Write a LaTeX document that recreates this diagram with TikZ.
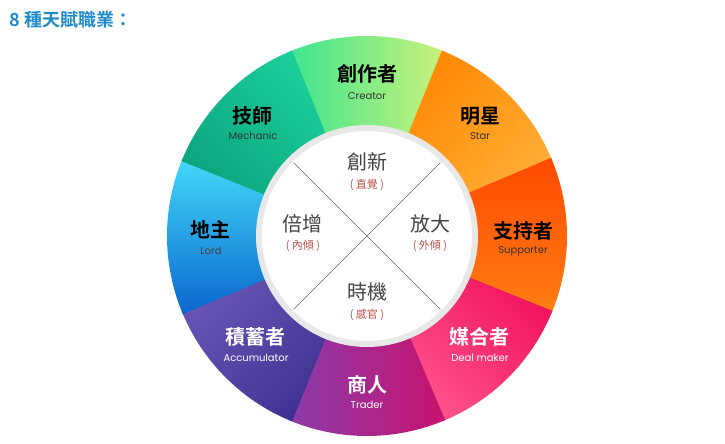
\documentclass[tikz,border=0pt]{standalone}
\usepackage{fontspec}
\newfontfamily\cjkb[BoldFont={Noto Sans CJK TC Bold}]{Noto Sans CJK TC}
\newfontfamily\cjkr{Noto Sans CJK TC}
\newfontfamily\enf{Poppins}
\definecolor{ttl}{HTML}{1F8AC8}
\definecolor{inred}{HTML}{C0504D}
\definecolor{ingray}{HTML}{444444}
\definecolor{c1a}{HTML}{3EE590}\definecolor{c1b}{HTML}{CCF27A}
\definecolor{c2a}{HTML}{FF8400}\definecolor{c2b}{HTML}{FFB23A}
\definecolor{c3a}{HTML}{FF4A00}\definecolor{c3b}{HTML}{FF7E14}
\definecolor{c4a}{HTML}{F00C58}\definecolor{c4b}{HTML}{FF5A92}
\definecolor{c5a}{HTML}{C8126E}\definecolor{c5b}{HTML}{8A3CAA}
\definecolor{c6a}{HTML}{3A2E90}\definecolor{c6b}{HTML}{6E5AB8}
\definecolor{c7a}{HTML}{0A66CE}\definecolor{c7b}{HTML}{44DAF8}
\definecolor{c8a}{HTML}{0AA07C}\definecolor{c8b}{HTML}{1ED49C}
\tikzset{
 big/.style={font=\cjkb\bfseries\fontsize{20}{22}\selectfont},
 sm/.style={font=\enf\fontsize{10}{12}\selectfont},
 inbig/.style={font=\cjkr\fontsize{20}{22}\selectfont,text=ingray},
 insm/.style={font=\cjkr\fontsize{11}{12}\selectfont,text=inred},
}
\newcommand{\wedgeseg}[3]{%
 \shade[left color=#2,right color=#3,shading angle=#1]
 (0,0) -- (#1+23:200) arc[start angle=#1+23,end angle=#1-23,radius=200] -- cycle;}
\begin{document}
\begin{tikzpicture}[x=1pt,y=1pt]
\useasboundingbox (-367,-208) rectangle (358,236);
\node[anchor=west,text=ttl,font=\cjkb\bfseries\fontsize{18}{20}\selectfont] (title) at (-361,216) {8 種天賦職業：};
% wedges
\wedgeseg{90}{c1a}{c1b}
\wedgeseg{45}{c2a}{c2b}
\wedgeseg{0}{c3a}{c3b}
\wedgeseg{-45}{c4a}{c4b}
\wedgeseg{-90}{c5a}{c5b}
\wedgeseg{-135}{c6a}{c6b}
\wedgeseg{180}{c7a}{c7b}
\wedgeseg{135}{c8a}{c8b}
% inner circle
\fill[gray!18] (0,0) circle (111);
\fill[white] (0,0) circle (105);
\coordinate (d1) at (45:104); \coordinate (d2) at (225:104);
\coordinate (d3) at (135:104); \coordinate (d4) at (-45:104);
\draw[gray!80!black,line width=0.5pt] (d1) -- (d2);
\draw[gray!80!black,line width=0.5pt] (d3) -- (d4);
% inner labels
\node[inbig] (i1) at (0,74) {創新}; \node[insm] (i1s) at (0,51) {( 直覺 )};
\node[inbig] (i2) at (-64,12) {倍增}; \node[insm] (i2s) at (-64,-10) {( 內傾 )};
\node[inbig] (i3) at (63,12) {放大}; \node[insm] (i3s) at (63,-10) {( 外傾 )};
\node[inbig] (i4) at (0,-56) {時機}; \node[insm] (i4s) at (0,-79) {( 感官 )};
% outer labels
\node[big] (a1) at (0,162) {創作者}; \node[sm,text=black!80] (a1s) at (0,140) {Creator};
\node[big] (a2) at (113,120) {明星}; \node[sm,text=black!80] (a2s) at (113,100) {Star};
\node[big] (a3) at (156,5) {支持者}; \node[sm,text=black!80] (a3s) at (156,-15) {Supporter};
\node[big,text=white] (a4) at (112,-101) {媒合者}; \node[sm,text=white] (a4s) at (113,-122) {Deal maker};
\node[big,text=white] (a5) at (0,-149) {商人}; \node[sm,text=white] (a5s) at (0,-169) {Trader};
\node[big,text=white] (a6) at (-111,-101) {積蓄者}; \node[sm,text=white] (a6s) at (-111,-122) {Accumulator};
\node[big] (a7) at (-156,6) {地主}; \node[sm,text=black!75] (a7s) at (-156,-15) {Lord};
\node[big] (a8) at (-114,120) {技師}; \node[sm,text=black!80] (a8s) at (-114,100) {Mechanic};
\end{tikzpicture}
\end{document}
